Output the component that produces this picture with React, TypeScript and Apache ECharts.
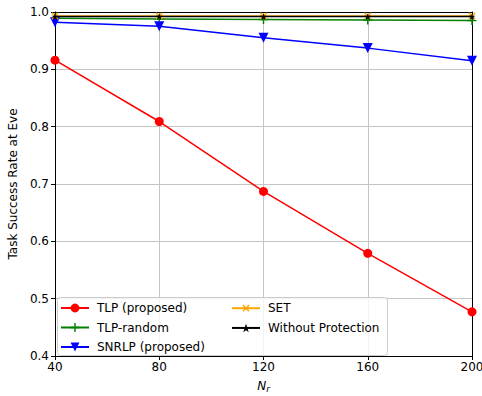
import React, { useEffect, useRef } from "react";
import * as echarts from "echarts";

const xValues = [40, 80, 120, 160, 200];
const tlp = [0.916, 0.809, 0.687, 0.579, 0.477];
const tlpRandom = [0.989, 0.988, 0.987, 0.986, 0.985];
const snrlp = [0.982, 0.975, 0.955, 0.937, 0.915];
const setVals = [0.993, 0.993, 0.993, 0.993, 0.993];
const noProt = [0.992, 0.992, 0.992, 0.992, 0.992];
const seriesNames = ["TLP (proposed)", "TLP-random", "SNRLP (proposed)", "SET", "Without Protection"];

const PLUS = "path://M4.2,0h1.6v4.2h4.2v1.6h-4.2v4.2h-1.6v-4.2h-4.2v-1.6h4.2z";
const STAR = "path://M50,0L61.17,34.63L97.55,34.55L68.07,55.87L79.39,90.45L50,69L20.61,90.45L31.93,55.87L2.45,34.55L38.83,34.63Z";

const FONT = "DejaVu Sans";

function pts(vals: number[]) {
  return xValues.map((x, i) => [x, vals[i]]);
}

export default function App() {
  const ref = useRef<HTMLDivElement>(null);
  useEffect(() => {
    if (!ref.current) return;
    const chart = echarts.init(ref.current, null, { renderer: "svg" });
    const mk = (name: string, data: number[], color: string, symbol: string, size: number, extra: any = {}) => ({
      name,
      type: "line",
      data: pts(data),
      symbol,
      symbolSize: size,
      symbolKeepAspect: true,
      showSymbol: true,
      lineStyle: { color, width: 1.5 },
      itemStyle: { color, borderWidth: 0 },
      emphasis: { disabled: true },
      ...extra,
    });
    const frameAxis = {
      type: "value",
      axisLine: { show: true, lineStyle: { color: "#000", width: 1 } },
      axisTick: { show: false },
      axisLabel: { show: false },
      splitLine: { show: false },
    };
    const legendBase = {
      orient: "vertical",
      top: 302,
      padding: 0,
      itemWidth: 28,
      itemHeight: 11,
      itemGap: 7.5,
      textStyle: { color: "#000", fontSize: 12, fontFamily: FONT, padding: [0, 0, 0, 3] },
      z: 10,
    };
    chart.setOption({
      animation: false,
      textStyle: { fontFamily: FONT },
      grid: { left: 55, right: 10, top: 12, bottom: 40, containLabel: false, outerBoundsMode: "none" },
      xAxis: [
        {
          type: "value",
          min: 40,
          max: 200,
          interval: 40,
          name: "{n|N}{s|r}",
          nameLocation: "middle",
          nameGap: 22,
          nameTextStyle: {
            rich: {
              n: { fontFamily: FONT, fontSize: 12, fontStyle: "italic", color: "#000" },
              s: { fontFamily: FONT, fontSize: 9, fontStyle: "italic", color: "#000", verticalAlign: "bottom", padding: [6, 0, 0, 0] },
            },
          },
          axisLine: { show: true, lineStyle: { color: "#000", width: 1 } },
          axisTick: { show: true, length: 4, lineStyle: { color: "#000" } },
          axisLabel: { color: "#000", fontSize: 12, fontFamily: FONT, margin: 5 },
          splitLine: { show: true, lineStyle: { color: "#c4c4c4", width: 1 } },
        },
        { ...frameAxis, position: "top", min: 40, max: 200 },
      ],
      yAxis: [
        {
          type: "value",
          min: 0.4,
          max: 1.0,
          interval: 0.1,
          name: "Task Success Rate at Eve",
          nameLocation: "middle",
          nameGap: 33,
          nameTextStyle: { color: "#000", fontSize: 12, fontFamily: FONT },
          axisLine: { show: true, lineStyle: { color: "#000", width: 1 } },
          axisTick: { show: true, length: 4, lineStyle: { color: "#000" } },
          axisLabel: { color: "#000", fontSize: 12, fontFamily: FONT, margin: 6, formatter: (v: number) => v.toFixed(1) },
          splitLine: { show: true, lineStyle: { color: "#c4c4c4", width: 1 } },
        },
        { ...frameAxis, position: "right", min: 0.4, max: 1.0 },
      ],
      legend: [
        { ...legendBase, left: 60, data: seriesNames.slice(0, 3) },
        { ...legendBase, left: 231, data: seriesNames.slice(3) },
      ],
      graphic: [
        {
          type: "rect",
          left: 57,
          top: 297,
          shape: { width: 330, height: 58, r: 3 },
          style: { fill: "rgba(255,255,255,0.8)", stroke: "#cccccc", lineWidth: 1 },
          z: 5,
          silent: true,
        },
      ],
      series: [
        mk(seriesNames[0], tlp, "#ff0000", "circle", 9, { z: 2 }),
        mk(seriesNames[1], tlpRandom, "#008000", PLUS, 9, { z: 3 }),
        mk(seriesNames[2], snrlp, "#0000ff", "triangle", 10, { z: 4, symbolRotate: 180 }),
        mk(seriesNames[3], setVals, "#ffa500", PLUS, 9, { z: 5, symbolRotate: 45 }),
        mk(seriesNames[4], noProt, "#000000", STAR, 7, { z: 6 }),
      ],
    });
    return () => chart.dispose();
  }, []);
  return <div ref={ref} style={{ position: "absolute", left: 0, top: 0, width: 482, height: 396 }} />;
}
